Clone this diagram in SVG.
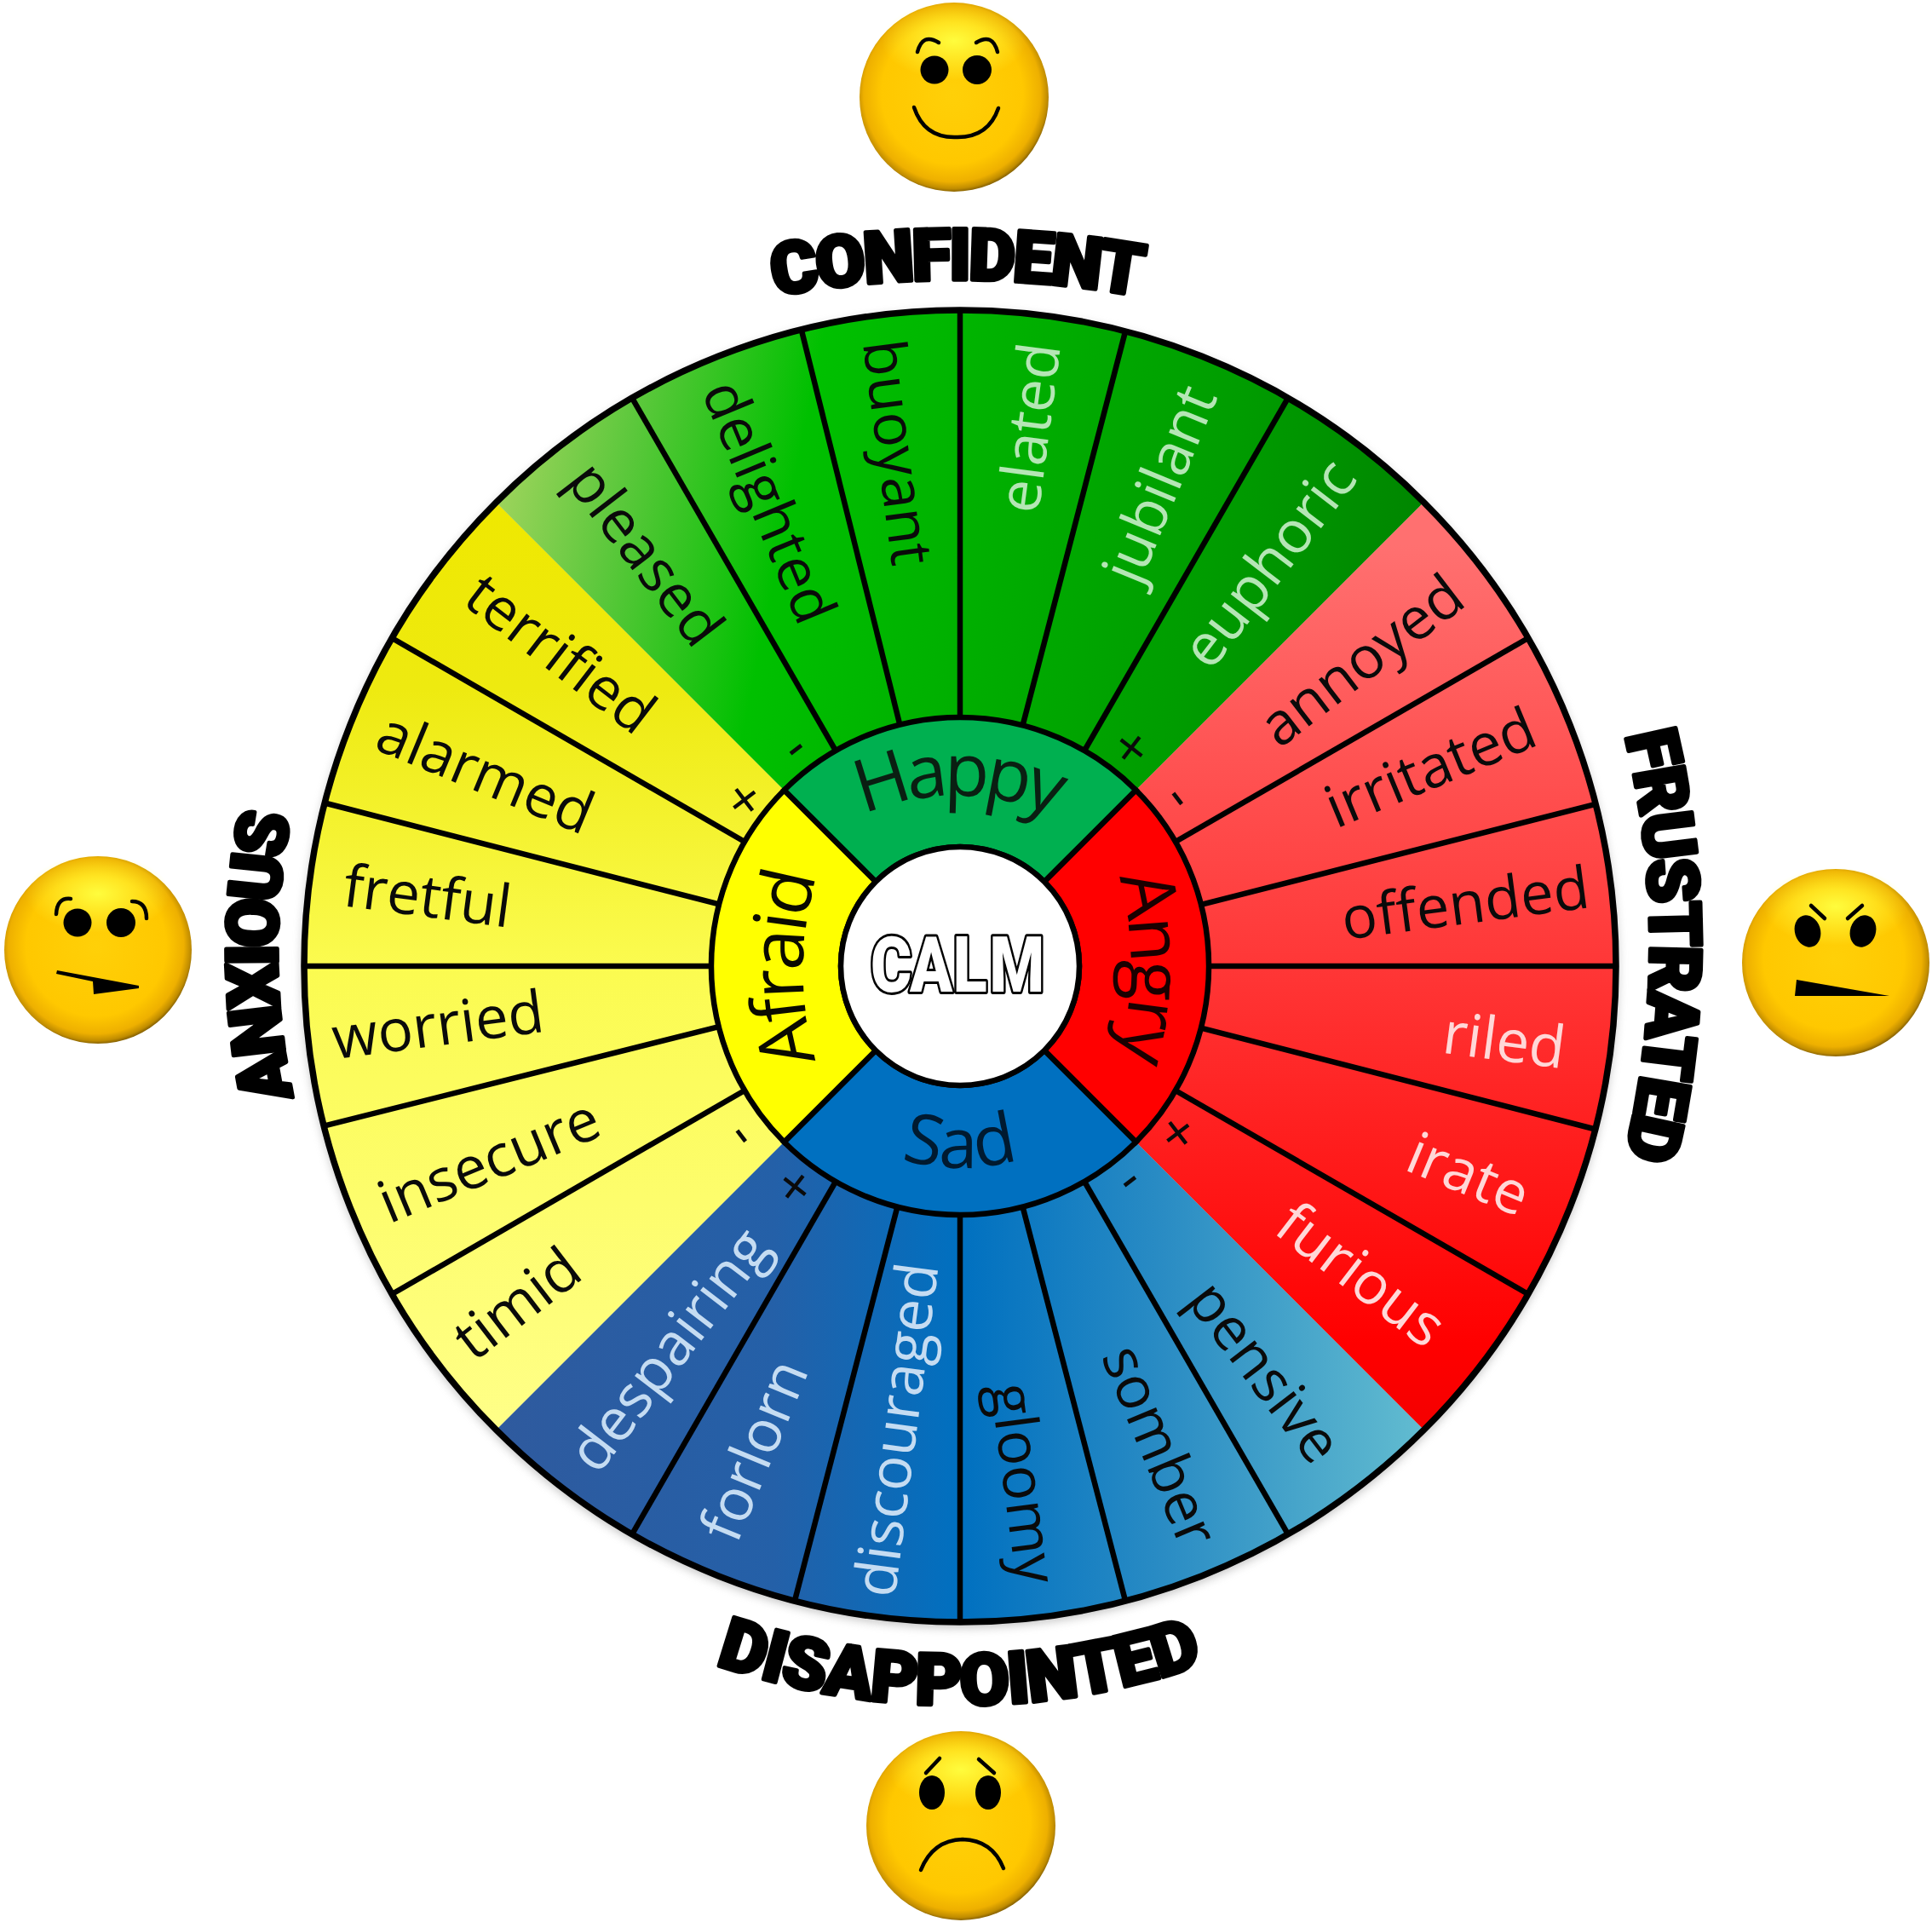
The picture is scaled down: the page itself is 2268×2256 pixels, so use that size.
<svg xmlns="http://www.w3.org/2000/svg" width="2268" height="2256" viewBox="0 0 2268 2256">
<style>
text{font-family:"Open Sans","Noto Sans","Liberation Sans",sans-serif}
.w{font-size:69px;text-anchor:middle;fill:#0a0a0a}
.lg{fill:#b5e6b5}.lr{fill:#ffd8d8}.lb{fill:#c5dcf2}
.c{font-size:86px;text-anchor:middle;fill:#0a1f12;letter-spacing:-4px}
.m{font-size:66px;text-anchor:middle;fill:#0a0a0a}
.h{font-family:Roboto,"Liberation Sans",sans-serif;font-weight:900;fill:#000;stroke:#000;stroke-width:5px;stroke-linejoin:round;text-anchor:middle;font-size:84px}
.s{stroke:#000;stroke-width:6.5;fill:none}
.b{stroke:#000;stroke-width:4.5;fill:none;stroke-linecap:round}
.f{fill:url(#face)}.g{fill:url(#glow)}.k{fill:#000}
</style>
<defs>
<radialGradient id="face" cx=".49" cy=".48" r=".52">
<stop offset="0" stop-color="#ffd008"/><stop offset=".72" stop-color="#ffc800"/><stop offset=".9" stop-color="#eeb000"/><stop offset=".97" stop-color="#c08c00"/><stop offset="1" stop-color="#8a6400"/>
</radialGradient>
<radialGradient id="glow"><stop offset="0" stop-color="#ffff40" stop-opacity=".95"/><stop offset="1" stop-color="#ffff40" stop-opacity="0"/></radialGradient>
<linearGradient id="gh" gradientUnits="userSpaceOnUse" x1="600" y1="540" x2="1680" y2="760">
<stop offset="0" stop-color="#9ad35a"/><stop offset=".12" stop-color="#5cc83c"/><stop offset=".3" stop-color="#00c000"/><stop offset=".5" stop-color="#00b000"/><stop offset=".75" stop-color="#009c00"/><stop offset="1" stop-color="#008200"/>
</linearGradient>
<linearGradient id="gr" gradientUnits="userSpaceOnUse" x1="1700" y1="640" x2="1700" y2="1680">
<stop offset="0" stop-color="#ff7070"/><stop offset=".4" stop-color="#ff4040"/><stop offset=".7" stop-color="#ff1a1a"/><stop offset=".9" stop-color="#ff0000"/><stop offset="1" stop-color="#f40000"/>
</linearGradient>
<linearGradient id="gs" gradientUnits="userSpaceOnUse" x1="582" y1="1500" x2="1672" y2="1500">
<stop offset="0" stop-color="#2f5a9e"/><stop offset=".3" stop-color="#2460a8"/><stop offset=".5" stop-color="#0070c0"/><stop offset=".72" stop-color="#2a8cc4"/><stop offset="1" stop-color="#62bcd0"/>
</linearGradient>
<linearGradient id="ga" gradientUnits="userSpaceOnUse" x1="400" y1="590" x2="400" y2="1680">
<stop offset="0" stop-color="#efe800"/><stop offset=".2" stop-color="#eeea10"/><stop offset=".5" stop-color="#fbfb50"/><stop offset="1" stop-color="#ffff88"/>
</linearGradient>
<filter id="blur" x="-10%" y="-10%" width="120%" height="120%"><feGaussianBlur stdDeviation="6"/></filter>
<path id="ph" d="M953 991.5A280 280 0 0 1 1293 991.5"/>
<path id="pn" d="M1294 974A400 400 0 0 1 1294 1294"/>
<path id="ps" d="M1127 897A237 237 0 0 0 1127 1371A237 237 0 0 0 1127 897Z"/>
<path id="pf" d="M978 1298A380 380 0 0 1 978 978"/>
<path id="p1" d="M900 349A1207 1207 0 0 1 1345 349"/>
<path id="p2" d="M1905 853A1036 1036 0 0 1 1905 1365"/>
<path id="p3" d="M838 1953A881 881 0 0 0 1414 1953"/>
<path id="p4" d="M348 1305A800 800 0 0 1 344 945"/>
</defs>
<rect width="2268" height="2256" fill="#fff"/>
<circle cx="1127" cy="1138" r="772" fill="#888" opacity=".55" filter="url(#blur)"/>

<g id="wheel-afraid">
<path d="M1127 1134L582.5 589.5A770 770 0 0 0 582.5 1678.5Z" fill="url(#ga)"/>
<text class="w" transform="translate(658 767) rotate(37.5)" dy=".35em">terrified</text>
<text class="w" transform="translate(570 907) rotate(22.5)" dy=".35em">alarmed</text>
<text class="w" transform="translate(502 1052) rotate(7.5)" dy=".35em">fretful</text>
<text class="w" transform="translate(514 1203) rotate(-7.5)" dy=".35em">worried</text>
<text class="w" transform="translate(574 1362) rotate(-22.5)" dy=".35em">insecure</text>
<text class="w" transform="translate(607 1530) rotate(-37.5)" dy=".35em">timid</text>
<text class="m" transform="translate(874 939) rotate(-37.5)" dy=".35em">+</text>
<text class="m" transform="translate(871 1333) rotate(52.5)" dy=".28em">-</text>
</g>
<g id="wheel-happy">
<path d="M1127 1134L582.5 589.5A770 770 0 0 1 1671.5 589.5Z" fill="url(#gh)"/>
<text class="w" transform="translate(758 650) rotate(52.5)" dy=".35em">pleased</text>
<text class="w" transform="translate(903 589) rotate(67.5)" dy=".35em">delighted</text>
<text class="w" transform="translate(1054 531) rotate(82.5)" dy=".35em">buoyant</text>
<text class="w lg" transform="translate(1208 502) rotate(-82.5)" dy=".35em">elated</text>
<text class="w lg" transform="translate(1361 568) rotate(-67.5)" dy=".35em">jubilant</text>
<text class="w lg" transform="translate(1489 661) rotate(-52.5)" dy=".35em">euphoric</text>
<text class="m" transform="translate(934 879) rotate(-37.5)" dy=".28em">-</text>
<text class="m" transform="translate(1328 878) rotate(37.5)" dy=".35em">+</text>
</g>
<g id="wheel-angry">
<path d="M1127 1134L1671.5 589.5A770 770 0 0 1 1671.5 1678.5Z" fill="url(#gr)"/>
<text class="w" transform="translate(1598 775) rotate(-37.5)" dy=".35em">annoyed</text>
<text class="w" transform="translate(1679 901) rotate(-22.5)" dy=".35em">irritated</text>
<text class="w" transform="translate(1720 1060) rotate(-7.5)" dy=".35em">offended</text>
<text class="w lr" transform="translate(1766 1221) rotate(7.5)" dy=".35em">riled</text>
<text class="w lr" transform="translate(1724 1378) rotate(22.5)" dy=".35em">irate</text>
<text class="w lr" transform="translate(1598 1496) rotate(37.5)" dy=".35em">furious</text>
<text class="m" transform="translate(1383 937) rotate(52.5)" dy=".28em">-</text>
<text class="m" transform="translate(1383 1330) rotate(-37.5)" dy=".35em">+</text>
</g>
<g id="wheel-sad">
<path d="M1127 1134L1671.5 1678.5A770 770 0 0 1 582.5 1678.5Z" fill="url(#gs)"/>
<text class="w" transform="translate(1485 1610) rotate(52.5)" dy=".35em">pensive</text>
<text class="w" transform="translate(1362 1697) rotate(67.5)" dy=".35em">somber</text>
<text class="w" transform="translate(1202 1741) rotate(82.5)" dy=".35em">gloomy</text>
<text class="w lb" transform="translate(1052 1678) rotate(-82.5)" dy=".35em">discouraged</text>
<text class="w lb" transform="translate(885 1702) rotate(-67.5)" dy=".35em">forlorn</text>
<text class="w lb" transform="translate(785 1584) rotate(-52.5)" dy=".35em">despairing</text>
<text class="m" transform="translate(1326 1386) rotate(-37.5)" dy=".28em">-</text>
<text class="m" transform="translate(933 1393) rotate(37.5)" dy=".35em">+</text>
</g>

<g id="connectors">
<circle class="s" cx="1127" cy="1134" r="770" style="stroke-width:7.5"/>
<g id="spokes">
<line class="s" x1="1127" y1="842" x2="1127" y2="364"/>
<line class="s" x1="1127" y1="842" x2="1127" y2="364" transform="rotate(14.6 1127 1134)"/>
<line class="s" x1="1127" y1="842" x2="1127" y2="364" transform="rotate(30 1127 1134)"/>
<line class="s" x1="1127" y1="842" x2="1127" y2="364" transform="rotate(60 1127 1134)"/>
<line class="s" x1="1127" y1="842" x2="1127" y2="364" transform="rotate(75.7 1127 1134)"/>
<line class="s" x1="1127" y1="842" x2="1127" y2="364" transform="rotate(90 1127 1134)"/>
<line class="s" x1="1127" y1="842" x2="1127" y2="364" transform="rotate(104.4 1127 1134)"/>
<line class="s" x1="1127" y1="842" x2="1127" y2="364" transform="rotate(120 1127 1134)"/>
<line class="s" x1="1127" y1="842" x2="1127" y2="364" transform="rotate(150 1127 1134)"/>
<line class="s" x1="1127" y1="842" x2="1127" y2="364" transform="rotate(165.4 1127 1134)"/>
<line class="s" x1="1127" y1="842" x2="1127" y2="364" transform="rotate(180 1127 1134)"/>
<line class="s" x1="1127" y1="842" x2="1127" y2="364" transform="rotate(194.6 1127 1134)"/>
<line class="s" x1="1127" y1="842" x2="1127" y2="364" transform="rotate(210 1127 1134)"/>
<line class="s" x1="1127" y1="842" x2="1127" y2="364" transform="rotate(240 1127 1134)"/>
<line class="s" x1="1127" y1="842" x2="1127" y2="364" transform="rotate(255.9 1127 1134)"/>
<line class="s" x1="1127" y1="842" x2="1127" y2="364" transform="rotate(270 1127 1134)"/>
<line class="s" x1="1127" y1="842" x2="1127" y2="364" transform="rotate(284.4 1127 1134)"/>
<line class="s" x1="1127" y1="842" x2="1127" y2="364" transform="rotate(300 1127 1134)"/>
<line class="s" x1="1127" y1="842" x2="1127" y2="364" transform="rotate(330 1127 1134)"/>
<line class="s" x1="1127" y1="842" x2="1127" y2="364" transform="rotate(346 1127 1134)"/>
</g>
</g>

<g id="ring-happy">
<path d="M1028 1035L920.5 927.5A292 292 0 0 1 1333.5 927.5L1226 1035A140 140 0 0 0 1028 1035Z" class="s" style="fill:#00b050"/>
<text class="c" style="letter-spacing:-7px"><textPath href="#ph" startOffset="50%">Happy</textPath></text>
</g>
<g id="ring-angry">
<path d="M1226 1035L1333.5 927.5A292 292 0 0 1 1333.5 1340.5L1226 1233A140 140 0 0 0 1226 1035Z" class="s" style="fill:#f00"/>
<text class="c" style="fill:#1a0000"><textPath href="#pn" startOffset="50%">Angry</textPath></text>
</g>
<g id="ring-sad">
<path d="M1226 1233L1333.5 1340.5A292 292 0 0 1 920.5 1340.5L1028 1233A140 140 0 0 0 1226 1233Z" class="s" style="fill:#0070c0"/>
<text class="c" style="fill:#001a30;letter-spacing:0;font-size:82px"><textPath href="#ps" startOffset="50%">Sad</textPath></text>
</g>
<g id="ring-afraid">
<path d="M1028 1233L920.5 1340.5A292 292 0 0 1 920.5 927.5L1028 1035A140 140 0 0 0 1028 1233Z" class="s" style="fill:#ff0"/>
<text class="c" style="fill:#0a0a00"><textPath href="#pf" startOffset="50%">Afraid</textPath></text>
</g>
<g id="hub">
<circle cx="1127" cy="1134" r="140" class="s" style="fill:#fff"/>
<text transform="translate(1022 1164) scale(.82 1)" x="0 56 118 170" y="0" style="font-family:Roboto,'Liberation Sans',sans-serif;font-weight:900;font-size:90px;fill:#fff;stroke:#000;stroke-width:6px;paint-order:stroke;stroke-linejoin:round">CALM</text>
</g>

<g id="label-confident"><text class="h" style="letter-spacing:-3px"><textPath href="#p1" startOffset="50%">CONFIDENT</textPath></text></g>
<g id="label-frustrated"><text class="h" style="letter-spacing:-2.7px"><textPath href="#p2" startOffset="50%">FRUSTRATED</textPath></text></g>
<g id="label-disappointed"><text class="h" style="letter-spacing:-1px"><textPath href="#p3" startOffset="50%">DISAPPOINTED</textPath></text></g>
<g id="label-anxious"><text class="h" style="letter-spacing:-5px"><textPath href="#p4" startOffset="50%">ANXIOUS</textPath></text></g>

<g id="face-happy">
<circle class="f" cx="1120" cy="114" r="111"/>
<ellipse class="g" cx="1120" cy="48" rx="85" ry="46"/>
<circle class="k" cx="1097" cy="82" r="16.5"/><circle class="k" cx="1147" cy="82" r="17"/>
<path class="b" d="M1077 61Q1083 38 1102 50"/><path class="b" d="M1146 50Q1165 38 1171 61"/>
<path class="b" d="M1073 126Q1085 162 1122 161Q1160 162 1172 127"/>
</g>
<g id="face-anxious">
<circle class="f" cx="115" cy="1115" r="110"/>
<ellipse class="g" cx="115" cy="1049" rx="85" ry="46"/>
<circle class="k" cx="91" cy="1083" r="16.5"/><circle class="k" cx="142" cy="1083" r="17"/>
<path class="b" d="M66 1073Q67 1053 83 1055"/><path class="b" d="M155 1058Q172 1058 172 1078"/>
<path class="k" d="M67 1139L163 1157V1160L110 1167L109 1152L66 1143Z"/>
</g>
<g id="face-angry">
<circle class="f" cx="2155" cy="1130" r="110"/>
<ellipse class="g" cx="2155" cy="1064" rx="85" ry="46"/>
<ellipse class="k" cx="2122" cy="1093" rx="15" ry="19" transform="rotate(-18 2122 1093)"/>
<ellipse class="k" cx="2187" cy="1093" rx="15" ry="19" transform="rotate(18 2187 1093)"/>
<path class="b" d="M2126 1063L2142 1078"/><path class="b" d="M2186 1063L2169 1078"/>
<path class="k" d="M2109 1150L2218 1169H2107Z"/>
</g>
<g id="face-sad">
<circle class="f" cx="1128" cy="2143" r="111"/>
<ellipse class="g" cx="1128" cy="2077" rx="85" ry="46"/>
<ellipse class="k" cx="1094" cy="2104" rx="15" ry="20"/><ellipse class="k" cx="1160" cy="2104" rx="15" ry="20"/>
<path class="b" d="M1087 2081L1103 2064"/><path class="b" d="M1167 2081L1149 2065"/>
<path class="b" d="M1081 2195Q1095 2160 1130 2159Q1165 2160 1178 2193"/>
</g>
</svg>
